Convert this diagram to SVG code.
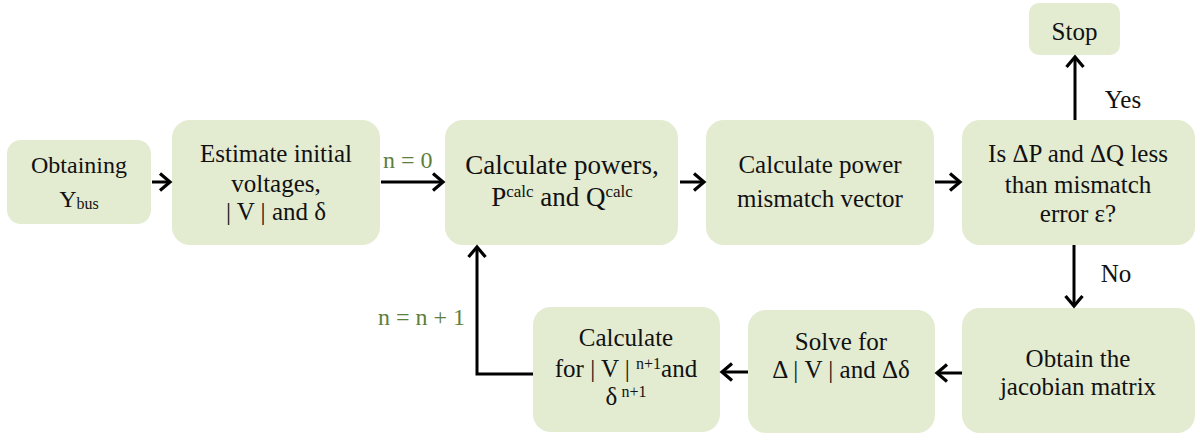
<svg xmlns="http://www.w3.org/2000/svg" width="1197" height="435" viewBox="0 0 1197 435">
<defs>
<marker id="ah" markerUnits="userSpaceOnUse" markerWidth="16" markerHeight="20" refX="12" refY="10" orient="auto" viewBox="0 0 16 20">
<path d="M2,1.5 L12,10 L2,18.5" fill="none" stroke="#000" stroke-width="3.2"/>
</marker>
</defs>
<style>
.box{fill:#e3ebd1;}
.t{font-family:"Liberation Serif","Times New Roman",serif;font-size:25px;fill:#111;text-anchor:middle;}
.s{font-size:16px;}
.g{font-family:"Liberation Serif","Times New Roman",serif;font-size:24px;fill:#5d7f3c;}
.c{fill:none;stroke:#000;stroke-width:3;}
</style>
<rect width="1197" height="435" fill="#fff"/>
<g id="n1"><rect class="box" x="7" y="140" width="144" height="84" rx="14"/>
<text class="t" x="79" y="173" style="font-size:24px">Obtaining</text>
<text class="t" x="79" y="207" style="font-size:24px">Y<tspan class="s" dy="2">bus</tspan></text></g>
<g id="n2"><rect class="box" x="172" y="120" width="208" height="125" rx="18"/>
<text class="t" x="276" y="162">Estimate initial</text>
<text class="t" x="276" y="192">voltages,</text>
<text class="t" x="276" y="220">| V | and δ</text></g>
<g id="n3"><rect class="box" x="445" y="120" width="233" height="125" rx="18"/>
<text class="t" x="562" y="174" style="font-size:27px">Calculate powers,</text>
<text class="t" x="562" y="206" style="font-size:27px">P<tspan class="s" style="font-size:17px" dy="-9">calc</tspan><tspan dy="9"> and Q</tspan><tspan class="s" style="font-size:17px" dy="-9">calc</tspan></text></g>
<g id="n4"><rect class="box" x="706" y="120" width="228" height="125" rx="18"/>
<text class="t" x="820" y="173">Calculate power</text>
<text class="t" x="820" y="207">mismatch vector</text></g>
<g id="n5"><rect class="box" x="962" y="120" width="233" height="125" rx="18"/>
<text class="t" x="1078" y="162">Is ΔP and ΔQ less</text>
<text class="t" x="1078" y="193">than mismatch</text>
<text class="t" x="1078" y="222">error ε?</text></g>
<g id="n6"><rect class="box" x="1029" y="3" width="91" height="52" rx="10"/>
<text class="t" x="1074.5" y="40">Stop</text></g>
<g id="n7"><rect class="box" x="962" y="308" width="233" height="125" rx="18"/>
<text class="t" x="1078" y="367">Obtain the</text>
<text class="t" x="1078" y="395">jacobian matrix</text></g>
<g id="n8"><rect class="box" x="748" y="310" width="187" height="123" rx="18"/>
<text class="t" x="841" y="350">Solve for</text>
<text class="t" x="841" y="378">Δ | V | and Δδ</text></g>
<g id="n9"><rect class="box" x="533" y="307" width="187" height="125" rx="18"/>
<text class="t" x="626" y="346">Calculate</text>
<text class="t" x="626" y="377">for | V | <tspan class="s" dy="-8">n+1</tspan><tspan dy="8">and</tspan></text>
<text class="t" x="626" y="405">δ<tspan class="s" dy="-8"> n+1</tspan></text></g>
<g id="connectors">
<line class="c" x1="152" y1="182" x2="170" y2="182" marker-end="url(#ah)"/>
<line class="c" x1="381" y1="182" x2="443" y2="182" marker-end="url(#ah)"/>
<line class="c" x1="680" y1="182" x2="704" y2="182" marker-end="url(#ah)"/>
<line class="c" x1="935" y1="182" x2="960" y2="182" marker-end="url(#ah)"/>
<line class="c" x1="1075" y1="120" x2="1075" y2="57" marker-end="url(#ah)"/>
<line class="c" x1="1074" y1="245" x2="1074" y2="306" marker-end="url(#ah)"/>
<line class="c" x1="962" y1="373" x2="937" y2="373" marker-end="url(#ah)"/>
<line class="c" x1="748" y1="372" x2="722" y2="372" marker-end="url(#ah)"/>
<polyline class="c" points="533,374 477,374 477,247" marker-end="url(#ah)"/>
<text class="g" x="383" y="168">n = 0</text>
<text class="g" x="465" y="325" text-anchor="end">n = n + 1</text>
<text class="t" x="1123" y="108">Yes</text>
<text class="t" x="1116" y="282">No</text>
</g>
</svg>
